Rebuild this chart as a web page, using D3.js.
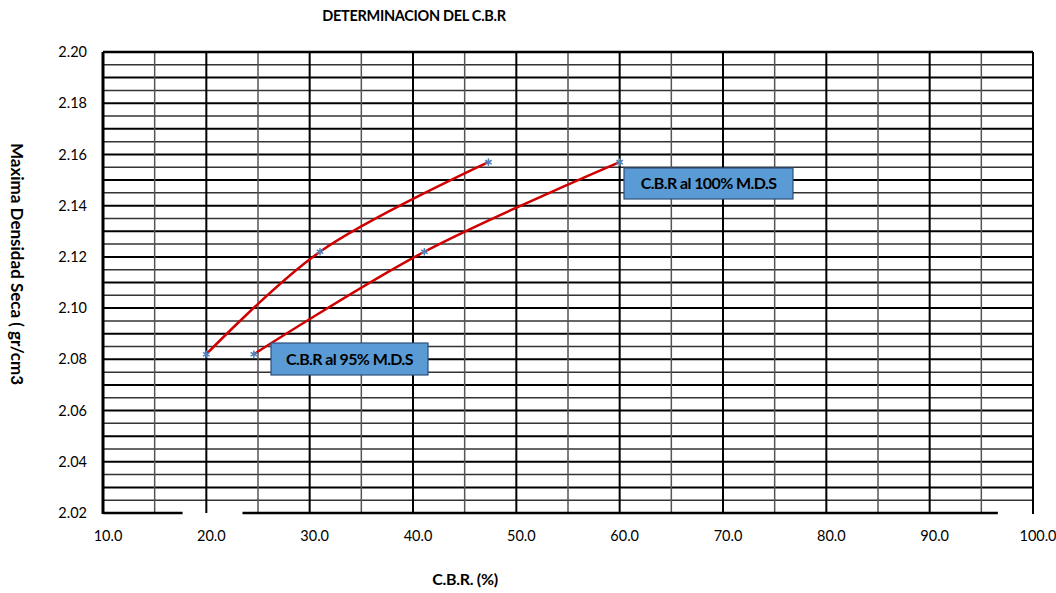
<!DOCTYPE html>
<html>
<head>
<meta charset="utf-8">
<script src="https://cdn.jsdelivr.net/npm/d3@7"></script>
<style>
  html, body { margin: 0; padding: 0; background: #fff; }
  svg { display: block; font-family: Lato, "Open Sans", sans-serif; }
</style>
</head>
<body>
<svg id="chart" width="1056" height="593"></svg>
<script>
// ---- data ----
const xTickLabels = ["10.0","20.0","30.0","40.0","50.0","60.0","70.0","80.0","90.0","100.0"];
const xTickValues = [10, 20, 30, 40, 50, 60, 70, 80, 90, 100];
const yTickValues = [2.02, 2.04, 2.06, 2.08, 2.10, 2.12, 2.14, 2.16, 2.18, 2.20];
const seriesUpperCBR = [20.0, 31.0, 47.3];
const seriesUpperDensity = [2.082, 2.122, 2.157];
const seriesLowerCBR = [24.6, 41.1, 60.0];
const seriesLowerDensity = [2.082, 2.122, 2.157];
const annotations = ["C.B.R al 95% M.D.S", "C.B.R al 100% M.D.S"];
const titleText = "DETERMINACION DEL C.B.R";
const xTitle = "C.B.R. (%)";
const yTitle = "Maxima Densidad Seca ( gr/cm3";

// ---- layout ----
const L = 103, R = 1033, T = 52, B = 513;
const svg = d3.select("#chart");
const x = d3.scaleLinear().domain([10, 100]).range([L, R]);
const y = d3.scaleLinear().domain([2.02, 2.20]).range([B, T]);

// grid: horizontal minor (0.005) and major (0.01)
const g = svg.append("g");
const hMinor = d3.range(0, 37).map(i => 2.02 + i * 0.005).filter((v, i) => i % 2 === 1);
const hMajor = d3.range(0, 19).map(i => 2.02 + i * 0.01);
g.selectAll("line.hmin").data(hMinor).join("line")
  .attr("x1", L).attr("x2", R).attr("y1", d => y(d)).attr("y2", d => y(d))
  .attr("stroke", "#333").attr("stroke-width", 1.5);
g.selectAll("line.hmaj").data(hMajor.filter(v => v > 2.0201)).join("line")
  .attr("x1", L).attr("x2", R).attr("y1", d => y(d)).attr("y2", d => y(d))
  .attr("stroke", "#000").attr("stroke-width", 2);

// vertical lines
const vMinor = d3.range(15, 100, 10);
const vMajor = d3.range(20, 100, 10);
g.selectAll("line.vmin").data(vMinor).join("line")
  .attr("x1", d => x(d)).attr("x2", d => x(d)).attr("y1", T).attr("y2", B)
  .attr("stroke", "#555").attr("stroke-width", 1.5);
g.selectAll("line.vmaj").data(vMajor).join("line")
  .attr("x1", d => x(d)).attr("x2", d => x(d)).attr("y1", T).attr("y2", B)
  .attr("stroke", "#000").attr("stroke-width", 2);

// border (bottom with gaps as in reference)
g.append("line").attr("x1", L).attr("x2", R).attr("y1", T).attr("y2", T).attr("stroke", "#000").attr("stroke-width", 2.5);
g.append("line").attr("x1", L).attr("x2", L).attr("y1", T).attr("y2", B + 1).attr("stroke", "#000").attr("stroke-width", 3);
g.append("line").attr("x1", R).attr("x2", R).attr("y1", T).attr("y2", B + 1).attr("stroke", "#000").attr("stroke-width", 2);
g.append("line").attr("x1", L).attr("x2", x(17.7)).attr("y1", B).attr("y2", B).attr("stroke", "#000").attr("stroke-width", 2.5);
g.append("line").attr("x1", x(23.5)).attr("x2", x(96.6)).attr("y1", B).attr("y2", B).attr("stroke", "#000").attr("stroke-width", 2.5);

// y tick labels
svg.append("g").selectAll("text").data(yTickValues).join("text")
  .attr("x", 87).attr("y", d => y(d)).attr("dy", "0.35em")
  .attr("text-anchor", "end").attr("font-size", 14.5).attr("fill", "#000")
  .text(d => d.toFixed(2));

// x tick labels
svg.append("g").selectAll("text").data(xTickValues).join("text")
  .attr("x", d => x(d) + 5).attr("y", 536).attr("dy", "0.35em")
  .attr("text-anchor", "middle").attr("font-size", 14.5).attr("fill", "#000")
  .text((d, i) => xTickLabels[i]);

// titles
svg.append("text").attr("x", 414).attr("y", 16).attr("dy", "0.35em")
  .attr("text-anchor", "middle").attr("font-size", 14.5).attr("font-weight", "bold")
  .attr("letter-spacing", -0.3)
  .text(titleText);
svg.append("text").attr("x", 465).attr("y", 579).attr("dy", "0.35em")
  .attr("text-anchor", "middle").attr("font-size", 16).attr("font-weight", "bold")
  .attr("letter-spacing", -0.3)
  .text(xTitle);
svg.append("text").attr("transform", "translate(17,264) rotate(90)")
  .attr("text-anchor", "middle").attr("dy", "0.35em")
  .attr("font-size", 17).attr("font-weight", "bold")
  .text(yTitle);

// series
const line = d3.line().x(d => x(d[0])).y(d => y(d[1])).curve(d3.curveCatmullRom.alpha(0.5));
const upper = seriesUpperCBR.map((v, i) => [v, seriesUpperDensity[i]]);
const lower = seriesLowerCBR.map((v, i) => [v, seriesLowerDensity[i]]);
[upper, lower].forEach(s => {
  svg.append("path").datum(s).attr("d", line)
    .attr("fill", "none").attr("stroke", "#d00000").attr("stroke-width", 2.5);
  const sym = d3.symbol().type(d3.symbolAsterisk || d3.symbolCross).size(40);
  svg.append("g").selectAll("path").data(s).join("path")
    .attr("transform", d => `translate(${x(d[0])},${y(d[1])})`)
    .attr("d", sym).attr("fill", "none").attr("stroke", "#4f81bd").attr("stroke-width", 1.5);
});

// annotation boxes
const boxes = [
  { text: annotations[0], x0: 271, y0: 343, w: 157, h: 32 },
  { text: annotations[1], x0: 624, y0: 168, w: 169, h: 31 }
];
boxes.forEach(b => {
  svg.append("rect").attr("x", b.x0).attr("y", b.y0).attr("width", b.w).attr("height", b.h)
    .attr("fill", "#5b9bd5").attr("stroke", "#2f4f7a").attr("stroke-width", 1.2);
  svg.append("text").attr("x", b.x0 + b.w / 2).attr("y", b.y0 + b.h / 2).attr("dy", "0.35em")
    .attr("text-anchor", "middle").attr("font-size", 16).attr("font-weight", "bold")
    .attr("letter-spacing", -0.6).text(b.text);
});
</script>
</body>
</html>
